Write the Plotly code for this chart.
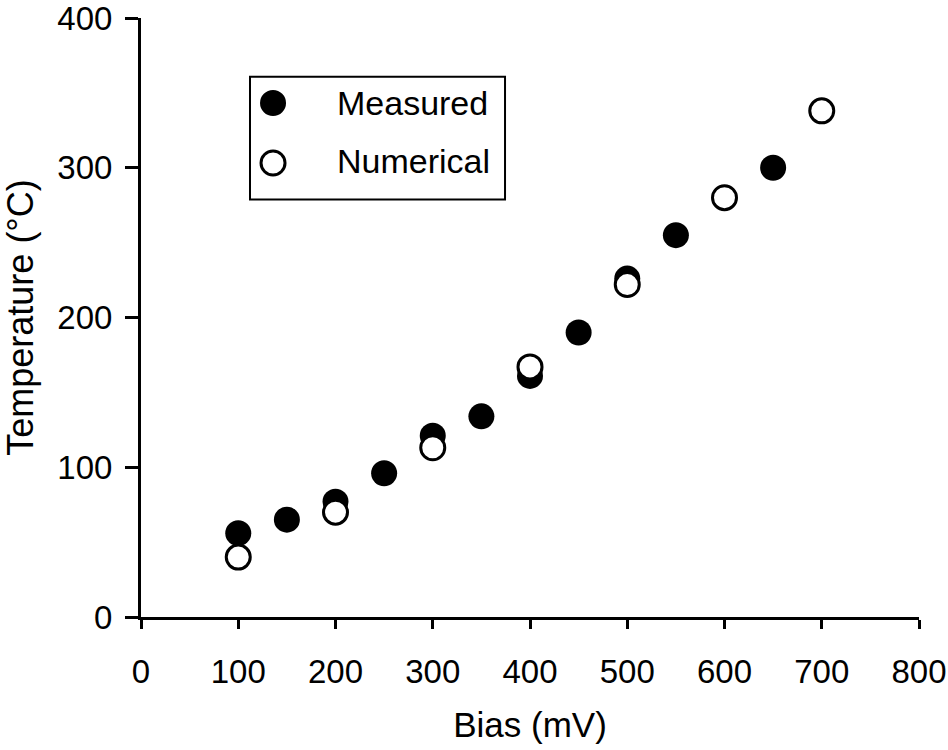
import plotly.graph_objects as go

# Data
measured_bias = [100, 150, 200, 250, 300, 350, 400, 450, 500, 550, 650]
measured_temp = [56, 65, 77, 96, 121, 134, 161, 190, 226, 255, 300]

numerical_bias = [100, 200, 300, 400, 500, 600, 700]
numerical_temp = [40, 70, 113, 167, 222, 280, 338]

x_ticks = [0, 100, 200, 300, 400, 500, 600, 700, 800]
y_ticks = [0, 100, 200, 300, 400]

series_names = ["Measured", "Numerical"]

FONT = "Liberation Sans, Arial, sans-serif"

fig = go.Figure()
fig.add_trace(go.Scatter(
    x=measured_bias, y=measured_temp, mode="markers", name=series_names[0],
    marker=dict(symbol="circle", size=26, color="black",
                line=dict(color="black", width=0)),
    showlegend=False,
))
fig.add_trace(go.Scatter(
    x=numerical_bias, y=numerical_temp, mode="markers", name=series_names[1],
    marker=dict(symbol="circle", size=24, color="white",
                line=dict(color="black", width=3)),
    showlegend=False,
))

# Hand-built legend (large symbols, as in the reference)
shapes = [
    dict(type="rect", xref="paper", yref="paper",
         x0=0.1401, x1=0.4679, y0=0.6972, y1=0.9018,
         line=dict(color="black", width=2), fillcolor="white", layer="below"),
    dict(type="circle", xref="paper", yref="paper",
         xsizemode="pixel", ysizemode="pixel",
         xanchor=0.1697, yanchor=0.8581, x0=-13, x1=13, y0=-13, y1=13,
         line=dict(color="black", width=0), fillcolor="black"),
    dict(type="circle", xref="paper", yref="paper",
         xsizemode="pixel", ysizemode="pixel",
         xanchor=0.1697, yanchor=0.7579, x0=-12, x1=12, y0=-12, y1=12,
         line=dict(color="black", width=3), fillcolor="white"),
]
annotations = [
    dict(text=series_names[0], xref="paper", yref="paper", x=0.2494, y=0.8581,
         xanchor="left", yanchor="middle", showarrow=False,
         font=dict(size=34, family=FONT, color="black")),
    dict(text=series_names[1], xref="paper", yref="paper", x=0.2494, y=0.7613,
         xanchor="left", yanchor="middle", showarrow=False,
         font=dict(size=34, family=FONT, color="black")),
]

fig.update_layout(
    width=948, height=750,
    margin=dict(l=141, r=29, t=18, b=133),
    paper_bgcolor="white", plot_bgcolor="white",
    font=dict(family=FONT, size=34, color="black"),
    showlegend=False,
    shapes=shapes,
    annotations=annotations,
)
fig.update_xaxes(
    range=[0, 800], tickvals=x_ticks, ticktext=[str(v) for v in x_ticks],
    showline=True, linecolor="black", linewidth=3,
    ticks="outside", ticklen=9, tickwidth=3, tickcolor="black",
    showgrid=False, zeroline=False, automargin=False,
    ticklabeloverflow="allow", ticklabelstandoff=14,
    tickfont=dict(size=33),
    title=dict(text="Bias (mV)", font=dict(size=35), standoff=24),
)
fig.update_yaxes(
    range=[0, 400], tickvals=y_ticks, ticktext=[str(v) for v in y_ticks],
    showline=True, linecolor="black", linewidth=3,
    ticks="outside", ticklen=13, tickwidth=3, tickcolor="black",
    showgrid=False, zeroline=False, automargin=False,
    ticklabeloverflow="allow", ticklabelstandoff=6,
    tickfont=dict(size=33),
    title=dict(text="Temperature (°C)", font=dict(size=36), standoff=16),
)

# Remove the page's default 8px body margin so the figure fills the window
fig.write_html(
    "out.html",
    config={"displayModeBar": False},
    post_script="document.body.style.margin='0';document.body.style.overflow='hidden';",
)
